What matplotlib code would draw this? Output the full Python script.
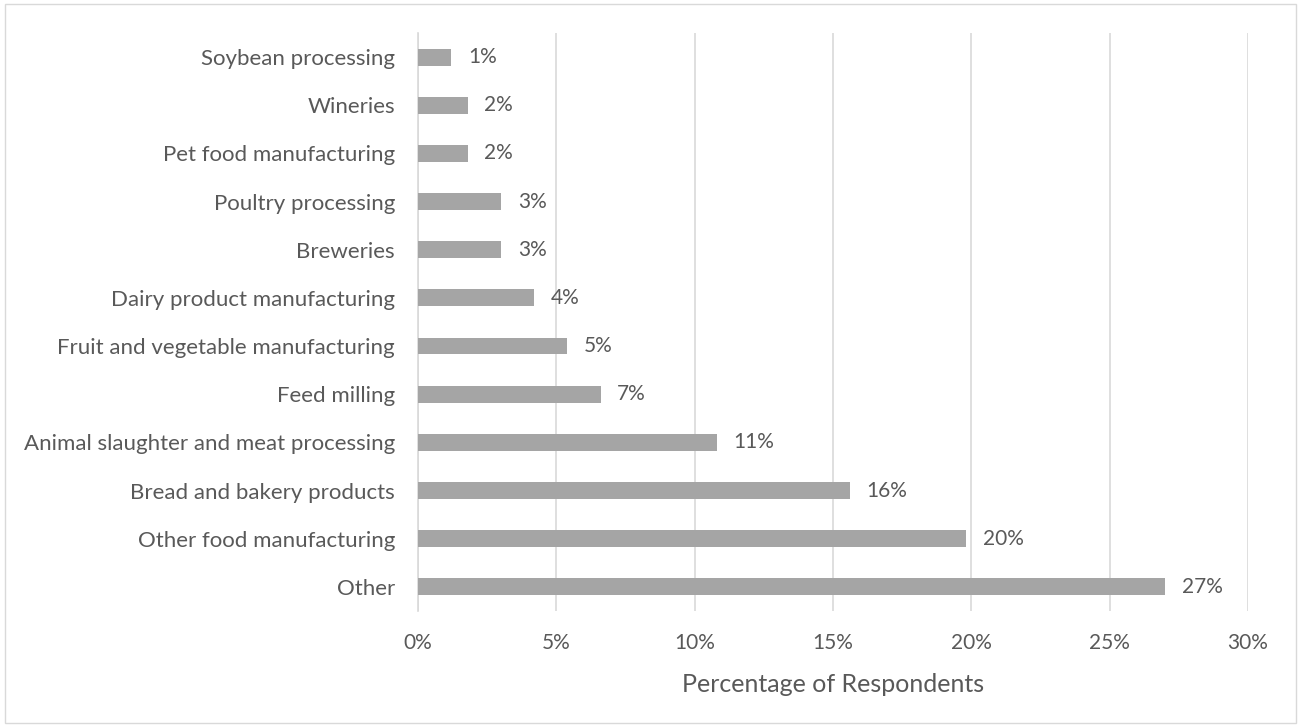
import matplotlib
matplotlib.use('Agg')
import matplotlib.pyplot as plt
from matplotlib.patches import Rectangle
from matplotlib.ticker import FuncFormatter

# 数据（从上到下）
categories = [
    'Soybean processing',
    'Wineries',
    'Pet food manufacturing',
    'Poultry processing',
    'Breweries',
    'Dairy product manufacturing',
    'Fruit and vegetable manufacturing',
    'Feed milling',
    'Animal slaughter and meat processing',
    'Bread and bakery products',
    'Other food manufacturing',
    'Other',
]
values = [1.2, 1.8, 1.8, 3.0, 3.0, 4.2, 5.4, 6.6, 10.8, 15.6, 19.8, 27.0]
value_labels = ['1%', '2%', '2%', '3%', '3%', '4%', '5%', '7%', '11%', '16%', '20%', '27%']
x_ticks = [0, 5, 10, 15, 20, 25, 30]

plt.rcParams['font.family'] = ['Lato', 'DejaVu Sans']
text_color = '#595959'

fig = plt.figure(figsize=(13.01, 7.27), dpi=100)
ax = fig.add_axes([0.3213, 0.1596, 0.9593 - 0.3213, 0.9546 - 0.1596])

# 外框
fig.patches.append(Rectangle((0.004, 0.006), 0.992, 0.988, transform=fig.transFigure,
                             fill=False, edgecolor='#D9D9D9', linewidth=1))

y = list(range(len(categories)))
ax.barh(y, values, height=0.35, color='#A5A5A5', zorder=3)

for yi, v, lab in zip(y, values, value_labels):
    ax.annotate(lab, (v, yi), xytext=(12, 0), textcoords='offset points',
                va='center', ha='left', fontsize=15, color=text_color)

ax.set_ylim(len(categories) - 0.5, -0.5)
ax.set_xlim(0, 30)
ax.set_yticks(y)
ax.set_yticklabels(categories, fontsize=16, color=text_color)
ax.set_xticks(x_ticks)
ax.xaxis.set_major_formatter(FuncFormatter(lambda v, p: f'{v:.0f}%'))
ax.tick_params(axis='x', labelsize=15, colors=text_color, length=0, pad=16)
ax.tick_params(axis='y', length=0, pad=16.5)

ax.grid(axis='x', color='#D9D9D9', linewidth=1.2, zorder=0)
for s in ['top', 'right', 'bottom']:
    ax.spines[s].set_visible(False)
ax.spines['left'].set_color('#D9D9D9')
ax.spines['left'].set_linewidth(1.2)

ax.set_xlabel('Percentage of Respondents', fontsize=18, color=text_color, labelpad=14)

fig.savefig('out.png', dpi=100)
plt.close(fig)
